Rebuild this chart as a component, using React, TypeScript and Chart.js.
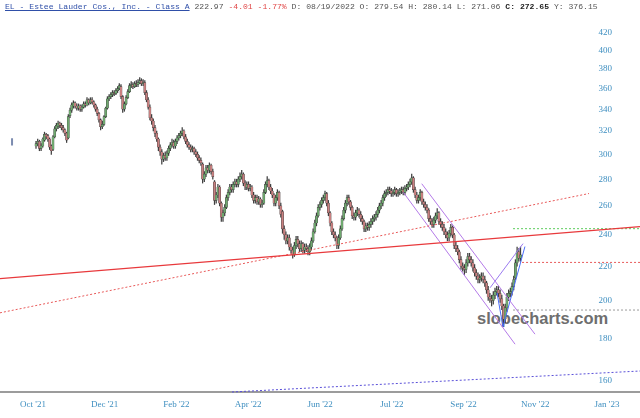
import { useEffect, useRef } from "react";
import { Chart, registerables } from "chart.js";

Chart.register(...registerables);

// Daily candles, bar index 0 = first session (Oct 2021) .. 285 (mid Nov 2022)
const opens = [
  307, 309, 311, 305, 307, 312, 317, 316, 313, 307,
  304, 315, 322, 324, 327, 325, 323, 321, 318, 314,
  334, 339, 343, 346, 343, 341, 343, 340, 342, 345,
  344, 349, 346, 349, 347, 344, 340, 336, 330, 324,
  326, 333, 341, 350, 352, 354, 356, 355, 358, 360,
  362, 352, 340, 345, 351, 357, 363, 364, 362, 365,
  364, 366, 368, 365, 366, 356, 349, 342, 332, 329,
  323, 318, 313, 306, 302, 296, 299, 297, 301, 305,
  308, 310, 307, 311, 314, 316, 318, 320, 315, 311,
  308, 306, 304, 305, 302, 300, 297, 295, 292, 280,
  284, 289, 287, 291, 286, 278, 264, 268, 274, 262,
  252, 255, 259, 266, 270, 274, 272, 276, 278, 276,
  280, 282, 284, 277, 274, 276, 273, 274, 268, 264,
  266, 263, 265, 261, 262, 270, 276, 279, 274, 271,
  268, 262, 266, 270, 260, 256, 244, 240, 236, 238,
  232, 230, 227, 233, 237, 234, 231, 234, 230, 232,
  231, 229, 232, 236, 242, 248, 253, 259, 261, 264,
  266, 269, 262, 255, 248, 242, 240, 238, 233, 238,
  244, 251, 257, 262, 266, 263, 259, 253, 252, 255,
  257, 254, 251, 249, 244, 246, 245, 247, 249, 251,
  252, 254, 257, 260, 262, 266, 269, 270, 272, 271,
  269, 270, 272, 269, 270, 271, 272, 270, 273, 274,
  276, 278, 281, 272, 268, 264, 266, 270, 263, 261,
  259, 257, 251, 249, 247, 250, 253, 255, 249, 247,
  245, 242, 240, 238, 241, 245, 240, 233, 231, 229,
  224, 220, 219, 218, 222, 226, 224, 222, 219, 216,
  214, 212, 213, 214, 212, 210, 206, 202, 201, 200,
  203, 205, 206, 204, 201, 197, 190, 196, 202, 204,
  205, 208, 213, 222, 229, 225,
];

const highs = [
  311, 313, 312, 309, 314, 319, 318, 317, 314, 308,
  316, 324, 327, 329, 328, 327, 325, 322, 319, 335,
  341, 346, 348, 347, 345, 345, 344, 344, 347, 347,
  351, 350, 351, 351, 348, 345, 342, 337, 331, 329,
  334, 342, 352, 354, 356, 358, 358, 360, 362, 365,
  364, 353, 347, 353, 359, 365, 367, 366, 367, 368,
  369, 371, 370, 369, 368, 358, 351, 344, 335, 331,
  325, 320, 314, 308, 304, 301, 302, 303, 307, 310,
  313, 312, 313, 316, 318, 320, 323, 321, 317, 313,
  310, 308, 307, 306, 304, 302, 299, 297, 293, 286,
  291, 291, 293, 292, 288, 279, 270, 276, 275, 263,
  257, 261, 268, 272, 276, 276, 278, 280, 280, 282,
  285, 287, 285, 279, 278, 278, 276, 275, 270, 268,
  268, 267, 266, 264, 272, 278, 282, 280, 276, 273,
  269, 268, 272, 271, 262, 257, 246, 242, 240, 240,
  234, 232, 235, 239, 239, 236, 236, 235, 234, 234,
  233, 234, 238, 244, 250, 255, 261, 263, 266, 268,
  271, 270, 264, 256, 249, 244, 242, 239, 240, 246,
  253, 259, 264, 268, 268, 264, 260, 255, 257, 259,
  258, 256, 253, 250, 248, 248, 249, 251, 253, 254,
  256, 259, 262, 264, 268, 271, 272, 274, 274, 273,
  272, 274, 273, 272, 273, 274, 274, 275, 276, 278,
  280, 284, 282, 274, 270, 268, 272, 271, 265, 263,
  261, 258, 253, 251, 252, 255, 258, 256, 251, 249,
  247, 244, 242, 243, 247, 246, 241, 235, 233, 230,
  226, 222, 221, 224, 228, 228, 226, 224, 221, 218,
  216, 215, 216, 216, 214, 211, 208, 204, 203, 205,
  207, 208, 208, 206, 203, 198, 198, 204, 206, 207,
  210, 214, 224, 232, 231, 232,
];

const lows = [
  305, 307, 303, 303, 306, 311, 313, 311, 304, 300,
  303, 314, 320, 322, 323, 321, 319, 316, 310, 313,
  332, 337, 341, 341, 339, 339, 338, 338, 341, 342,
  343, 344, 345, 345, 342, 338, 334, 328, 321, 322,
  325, 332, 340, 348, 350, 352, 353, 354, 356, 359,
  350, 337, 338, 344, 350, 356, 361, 360, 361, 362,
  362, 365, 363, 363, 354, 347, 340, 330, 326, 320,
  315, 311, 303, 299, 292, 294, 295, 295, 299, 303,
  306, 305, 305, 309, 312, 314, 316, 313, 309, 306,
  304, 302, 302, 300, 298, 295, 293, 291, 277, 278,
  282, 285, 285, 284, 280, 261, 262, 266, 260, 249,
  249, 253, 258, 264, 268, 270, 270, 274, 274, 274,
  278, 280, 275, 272, 272, 271, 271, 266, 262, 262,
  261, 261, 259, 259, 261, 269, 274, 272, 269, 266,
  260, 260, 264, 258, 252, 241, 237, 234, 234, 230,
  228, 225, 226, 231, 232, 229, 229, 228, 228, 229,
  227, 227, 230, 235, 241, 246, 252, 257, 259, 262,
  264, 260, 253, 246, 240, 238, 236, 231, 231, 237,
  243, 250, 255, 260, 261, 257, 251, 250, 250, 253,
  252, 249, 247, 242, 242, 243, 243, 245, 247, 249,
  250, 252, 255, 258, 260, 264, 267, 268, 269, 267,
  267, 268, 267, 267, 268, 269, 268, 268, 271, 272,
  274, 276, 270, 266, 262, 262, 264, 261, 259, 257,
  255, 249, 247, 245, 245, 248, 251, 247, 245, 243,
  240, 238, 236, 236, 239, 238, 231, 229, 227, 222,
  218, 217, 215, 216, 220, 222, 220, 217, 214, 212,
  210, 210, 211, 210, 208, 204, 200, 199, 197, 198,
  201, 203, 202, 199, 195, 186, 188, 194, 200, 202,
  203, 206, 212, 220, 223, 223,
];

const closes = [
  309, 311, 305, 307, 313, 317, 315, 313, 306, 303,
  315, 322, 325, 327, 325, 323, 321, 318, 312, 333,
  339, 344, 346, 343, 341, 343, 340, 342, 345, 344,
  349, 346, 349, 347, 344, 340, 336, 330, 324, 326,
  333, 341, 350, 352, 354, 356, 355, 358, 360, 363,
  352, 340, 345, 351, 357, 363, 364, 362, 365, 364,
  366, 368, 365, 366, 356, 349, 342, 332, 329, 323,
  318, 313, 306, 302, 296, 299, 297, 301, 305, 308,
  310, 307, 311, 314, 316, 318, 320, 315, 311, 308,
  306, 304, 305, 302, 300, 297, 295, 293, 280, 284,
  289, 287, 291, 286, 282, 264, 268, 274, 262, 252,
  255, 259, 266, 270, 274, 272, 276, 278, 276, 280,
  282, 284, 277, 274, 276, 273, 274, 268, 264, 266,
  263, 265, 261, 262, 270, 276, 279, 274, 271, 268,
  262, 266, 270, 260, 254, 244, 240, 236, 238, 232,
  230, 227, 233, 237, 234, 231, 234, 230, 232, 231,
  229, 232, 236, 242, 248, 253, 259, 261, 264, 266,
  269, 262, 255, 248, 242, 240, 238, 233, 238, 244,
  251, 257, 262, 266, 263, 259, 253, 252, 255, 257,
  254, 251, 249, 244, 246, 245, 247, 249, 251, 252,
  254, 257, 260, 262, 266, 269, 270, 272, 271, 269,
  270, 272, 269, 270, 271, 272, 270, 273, 274, 276,
  278, 281, 272, 268, 264, 266, 270, 263, 261, 259,
  257, 251, 249, 247, 250, 253, 255, 249, 247, 245,
  242, 240, 238, 241, 245, 240, 233, 231, 229, 224,
  220, 219, 218, 222, 226, 224, 222, 219, 216, 214,
  212, 213, 214, 212, 210, 206, 202, 201, 200, 203,
  205, 206, 204, 201, 197, 190, 196, 202, 204, 205,
  208, 212, 222, 229, 225, 227,
];

// x axis: label positions (in bar index units) and texts
const xTickBars = [-1.8, 40.4, 82.6, 124.8, 167.1, 209.3, 251.5, 293.7, 335.9];
const xTickLabels = ["Oct '21", "Dec '21", "Feb '22", "Apr '22", "Jun '22", "Jul '22", "Sep '22", "Nov '22", "Jan '23"];
const yTickValues = [160, 180, 200, 220, 240, 260, 280, 300, 320, 340, 360, 380, 400, 420];

// drawn trend lines: [barIndex, price] points
const redSolidLine = [[-21.2, 212.5], [355.3, 245.5]];
const redDottedLine = [[-21.2, 193.3], [325.3, 269.1]];
const greenLevel = [[280.6, 244.1], [355.3, 244.1]];
const redLevel = [[285.9, 222.3], [355.3, 222.3]];
const grayLevel = [[280.6, 194.8], [355.3, 194.8]];
const blueDottedLine = [[115.3, 155.2], [355.3, 164.5]];
const channelUpper = [[226.9, 276.5], [293.5, 182.2]];
const channelLower = [[216.1, 269.9], [281.8, 177.2]];
const wedgeRise = [[267.1, 207.2], [286.5, 234.2]];
const blueV = [[271.2, 204.3], [274.7, 185.9], [287.6, 232.3]];
const leftMark = [[-14.1, 313.7], [-14.1, 307.5]];

const X_MIN = -21.18;
const X_MAX = 355.29;
const Y_MIN = 155.2;
const Y_MAX = 460.2;

const UP = "#6fa86f";
const DOWN = "#c98080";
const EDGE = "#3a3a3a";
const WICK = "#404040";
const AXIS_TEXT = "#3f8fc0";

function lineDs(pts: number[][], color: string, width: number, dash: number[]) {
  return {
    type: "line" as const,
    data: pts.map(([x, y]) => ({ x, y })),
    borderColor: color,
    borderWidth: width,
    borderDash: dash,
    pointRadius: 0,
    fill: false,
    tension: 0,
    order: 0,
    clip: false as any,
  };
}

export default function App() {
  const canvasRef = useRef<HTMLCanvasElement | null>(null);

  useEffect(() => {
    document.body.style.margin = "0";
    const canvas = canvasRef.current;
    if (!canvas) return;
    const idx = closes.map((_, i) => i);
    const bodyData = idx.map((i) => ({ x: i, y: [opens[i], closes[i]] }));
    const wickData = idx.map((i) => ({ x: i, y: [lows[i], highs[i]] }));
    const bodyColors = idx.map((i) => (closes[i] >= opens[i] ? UP : DOWN));

    const chart = new Chart(canvas, {
      type: "bar",
      data: {
        datasets: [
          lineDs(redSolidLine, "#e8393c", 1.2, []),
          lineDs(redDottedLine, "#e85a5a", 1, [2, 2]),
          lineDs(greenLevel, "#5ccc5c", 1, [2, 2]),
          lineDs(redLevel, "#e85a5a", 1, [2, 2]),
          lineDs(grayLevel, "#9a9a9a", 1, [2, 2]),
          lineDs(blueDottedLine, "#5a50d8", 1, [2, 2]),
          lineDs(channelUpper, "#b47ae8", 1, []),
          lineDs(channelLower, "#b47ae8", 1, []),
          lineDs(wedgeRise, "#9a7af0", 1, []),
          lineDs(blueV, "#4a6cf8", 1, []),
          lineDs(leftMark, "#7c8cb0", 2, []),
          {
            type: "bar" as const,
            data: bodyData as any,
            backgroundColor: bodyColors,
            borderColor: EDGE,
            borderWidth: 0.4,
            borderSkipped: false,
            barThickness: 2.2,
            grouped: false,
            order: 1,
          },
          {
            type: "bar" as const,
            data: wickData as any,
            backgroundColor: WICK,
            borderWidth: 0,
            barThickness: 0.6,
            grouped: false,
            order: 2,
          },
        ] as any,
      },
      options: {
        animation: false,
        responsive: false,
        events: [],
        layout: { padding: 0 },
        plugins: {
          legend: { display: false },
          tooltip: { enabled: false },
          title: { display: false },
        },
        scales: {
          x: {
            type: "linear",
            min: X_MIN,
            max: X_MAX,
            bounds: "data",
            offset: false,
            grid: { display: false, drawTicks: false },
            border: { display: true, color: "#9c9c9c", width: 2 },
            ticks: {
              autoSkip: false,
              maxRotation: 0,
              minRotation: 0,
              padding: 7,
              color: AXIS_TEXT,
              font: { family: "'Liberation Serif', serif", size: 9 },
              callback: (_v: any, i: number) => xTickLabels[i] ?? "",
            },
            afterBuildTicks: (s: any) => {
              s.ticks = xTickBars.map((v) => ({ value: v }));
            },
            afterFit: (s: any) => {
              s.height = 26;
            },
          },
          y: {
            type: "logarithmic",
            position: "right",
            min: Y_MIN,
            max: Y_MAX,
            bounds: "data",
            grid: { display: false, drawTicks: false },
            border: { display: false },
            ticks: {
              mirror: true,
              padding: -28,
              autoSkip: false,
              color: AXIS_TEXT,
              font: { family: "'Liberation Serif', serif", size: 9 },
              callback: (v: any) => String(v),
            },
            afterBuildTicks: (s: any) => {
              s.ticks = yTickValues.map((v) => ({ value: v }));
            },
            afterFit: (s: any) => {
              s.width = 0;
            },
          },
        },
      } as any,
    });
    return () => chart.destroy();
  }, []);

  return (
    <div style={{ position: "fixed", left: 0, top: 0, width: 640, height: 418, background: "#ffffff", overflow: "hidden" }}>
      <div
        style={{
          position: "absolute",
          left: 477,
          top: 310,
          font: "bold 16.5px 'Liberation Sans', Arial, sans-serif",
          color: "#6e6e6e",
          lineHeight: 1,
          whiteSpace: "pre",
        }}
      >
        slopecharts.com
      </div>
      <canvas ref={canvasRef} width={640} height={418} style={{ position: "absolute", left: 0, top: 0 }} />
      <div
        style={{
          position: "absolute",
          left: 5,
          top: 2,
          fontFamily: "'Liberation Mono', monospace",
          fontSize: 8.1,
          lineHeight: "10px",
          whiteSpace: "pre",
          color: "#555555",
        }}
      >
        <span style={{ color: "#2f4fa8", textDecoration: "underline" }}>EL - Estee Lauder Cos., Inc. - Class A</span>
        {" 222.97 "}
        <span style={{ color: "#e04848" }}>-4.01 -1.77%</span>
        {" D: 08/19/2022 O: 279.54 H: 280.14 L: 271.06 "}
        <b style={{ color: "#222222" }}>C: 272.65</b>
        {" Y: 376.15"}
      </div>
    </div>
  );
}
